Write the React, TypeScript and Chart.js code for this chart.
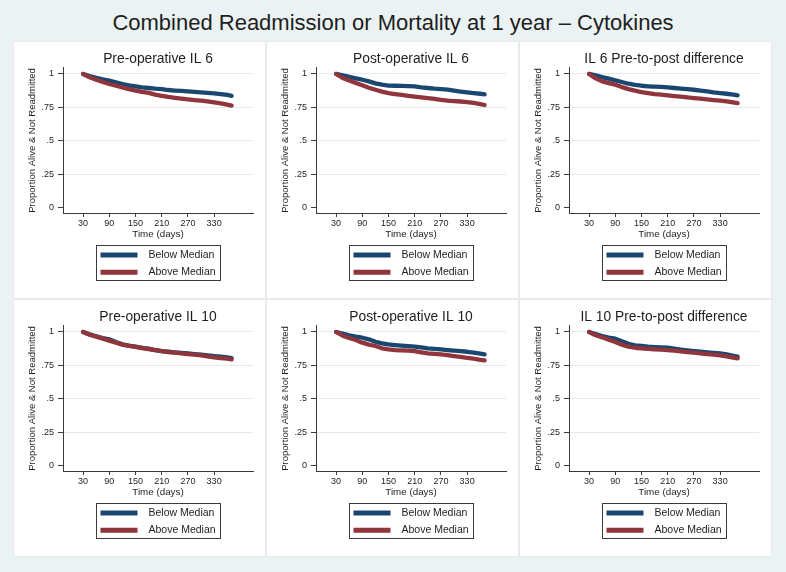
import React, { useEffect, useRef } from "react";
import { Chart, registerables } from "chart.js";
Chart.register(...registerables);

const FONT = '"Liberation Sans", Arial, Helvetica, sans-serif';
const MAIN_TITLE = "Combined Readmission or Mortality at 1 year – Cytokines";
const PANEL_TITLES = [
  "Pre-operative IL 6",
  "Post-operative IL 6",
  "IL 6 Pre-to-post difference",
  "Pre-operative IL 10",
  "Post-operative IL 10",
  "IL 10 Pre-to-post difference",
];
const SERIES_LABELS = ["Below Median", "Above Median"];
const X_TITLE = "Time (days)";
const Y_TITLE = "Proportion Alive & Not Readmitted";
const X_TICKS = [30, 90, 150, 210, 270, 330];
const Y_TICKS = [0, 0.25, 0.5, 0.75, 1];
const Y_TICK_LABELS = ["0", ".25", ".5", ".75", "1"];

const DAYS = [30, 45, 60, 75, 90, 105, 120, 135, 150, 165, 180, 195, 210, 225, 240, 255, 270, 285, 300, 315, 330, 345, 360, 370];

const IL6_PRE_BELOW = [1.0, 0.985, 0.972, 0.96, 0.95, 0.938, 0.925, 0.915, 0.907, 0.9, 0.895, 0.89, 0.887, 0.88, 0.876, 0.873, 0.87, 0.866, 0.862, 0.858, 0.855, 0.85, 0.843, 0.837];
const IL6_PRE_ABOVE = [1.0, 0.975, 0.957, 0.94, 0.925, 0.912, 0.9, 0.886, 0.875, 0.866, 0.858, 0.846, 0.837, 0.828, 0.822, 0.816, 0.81, 0.805, 0.8, 0.795, 0.787, 0.78, 0.77, 0.763];
const IL6_POST_BELOW = [1.0, 0.99, 0.978, 0.967, 0.957, 0.945, 0.93, 0.92, 0.913, 0.912, 0.911, 0.909, 0.907, 0.9, 0.895, 0.89, 0.887, 0.883, 0.875, 0.868, 0.862, 0.857, 0.852, 0.848];
const IL6_POST_ABOVE = [1.0, 0.97, 0.952, 0.933, 0.915, 0.897, 0.882, 0.868, 0.857, 0.85, 0.843, 0.836, 0.83, 0.825, 0.82, 0.813, 0.807, 0.8, 0.797, 0.794, 0.79, 0.783, 0.775, 0.768];
const IL6_DIFF_BELOW = [1.0, 0.99, 0.977, 0.965, 0.952, 0.94, 0.927, 0.918, 0.912, 0.908, 0.905, 0.903, 0.9, 0.895, 0.89, 0.886, 0.882, 0.876, 0.869, 0.862, 0.857, 0.852, 0.846, 0.84];
const IL6_DIFF_ABOVE = [1.0, 0.967, 0.945, 0.932, 0.92, 0.902, 0.887, 0.875, 0.865, 0.857, 0.85, 0.845, 0.84, 0.835, 0.83, 0.825, 0.82, 0.815, 0.81, 0.805, 0.8, 0.795, 0.787, 0.782];
const IL10_PRE_BELOW = [1.0, 0.982, 0.968, 0.955, 0.945, 0.925, 0.908, 0.898, 0.89, 0.882, 0.875, 0.865, 0.857, 0.852, 0.848, 0.844, 0.84, 0.835, 0.83, 0.825, 0.82, 0.815, 0.81, 0.805];
const IL10_PRE_ABOVE = [1.0, 0.98, 0.965, 0.95, 0.935, 0.92, 0.905, 0.896, 0.889, 0.88, 0.872, 0.864, 0.857, 0.85, 0.845, 0.84, 0.835, 0.83, 0.825, 0.818, 0.81, 0.805, 0.8, 0.795];
const IL10_POST_BELOW = [1.0, 0.988, 0.975, 0.965, 0.957, 0.945, 0.927, 0.915, 0.907, 0.902, 0.898, 0.894, 0.89, 0.884, 0.878, 0.874, 0.87, 0.865, 0.86, 0.856, 0.852, 0.845, 0.838, 0.832];
const IL10_POST_ABOVE = [1.0, 0.972, 0.955, 0.94, 0.92, 0.905, 0.895, 0.878, 0.87, 0.865, 0.862, 0.86, 0.857, 0.848, 0.84, 0.836, 0.832, 0.826, 0.82, 0.813, 0.807, 0.8, 0.792, 0.787];
const IL10_DIFF_BELOW = [1.0, 0.985, 0.97, 0.958, 0.95, 0.93, 0.912, 0.9, 0.895, 0.89, 0.887, 0.885, 0.882, 0.875, 0.868, 0.862, 0.857, 0.852, 0.848, 0.844, 0.84, 0.832, 0.822, 0.815];
const IL10_DIFF_ABOVE = [1.0, 0.975, 0.96, 0.942, 0.925, 0.905, 0.89, 0.882, 0.877, 0.873, 0.87, 0.868, 0.865, 0.86, 0.855, 0.85, 0.845, 0.84, 0.835, 0.83, 0.825, 0.818, 0.808, 0.802];

const PANEL_SERIES = [
  [IL6_PRE_BELOW, IL6_PRE_ABOVE],
  [IL6_POST_BELOW, IL6_POST_ABOVE],
  [IL6_DIFF_BELOW, IL6_DIFF_ABOVE],
  [IL10_PRE_BELOW, IL10_PRE_ABOVE],
  [IL10_POST_BELOW, IL10_POST_ABOVE],
  [IL10_DIFF_BELOW, IL10_DIFF_ABOVE],
];

const COLORS = ["#1a476f", "#90353b"];
const BG = "#eaf2f3";
const GRID = "#e2eaec";
const AXIS = "#3a3a3a";
const TEXT = "#1e1e1e";

const PANEL_W = 253;
const PANEL_H = 258;
const PANEL_X = [13, 266, 519];
const PANEL_Y = [41, 299];

const boxLegend = {
  id: "boxLegend",
  afterDraw(chart: any) {
    const ctx = chart.ctx;
    const area = chart.chartArea;
    const cx = (area.left + area.right) / 2;
    const w = 124;
    const h = 35;
    const x0 = Math.round(cx - w / 2) + 0.5;
    const y0 = Math.round(area.bottom + 32) + 0.5;
    ctx.save();
    ctx.strokeStyle = AXIS;
    ctx.lineWidth = 1;
    ctx.strokeRect(x0, y0, w, h);
    chart.data.datasets.forEach((ds: any, i: number) => {
      const yy = y0 + 9.5 + i * 17.3;
      ctx.strokeStyle = ds.borderColor;
      ctx.lineWidth = 5;
      ctx.lineCap = "butt";
      ctx.beginPath();
      ctx.moveTo(x0 + 4, yy);
      ctx.lineTo(x0 + 41, yy);
      ctx.stroke();
      ctx.fillStyle = TEXT;
      ctx.font = `10.5px ${FONT}`;
      ctx.textBaseline = "middle";
      ctx.textAlign = "left";
      ctx.fillText(ds.label, x0 + 52, yy);
    });
    ctx.restore();
  },
};

function Panel({ idx }: { idx: number }) {
  const ref = useRef<HTMLCanvasElement | null>(null);
  useEffect(() => {
    if (!ref.current) return;
    const series = PANEL_SERIES[idx];
    const chart = new Chart(ref.current, {
      type: "line",
      data: {
        datasets: series.map((vals, s) => ({
          label: SERIES_LABELS[s],
          data: DAYS.map((d, i) => ({ x: d, y: vals[i] })),
          borderColor: COLORS[s],
          backgroundColor: COLORS[s],
          borderWidth: 4.3,
          pointRadius: 0,
          tension: 0,
          fill: false,
          borderCapStyle: "round",
          borderJoinStyle: "round",
          order: s === 0 ? 1 : 0,
        })),
      },
      options: {
        animation: false,
        responsive: false,
        devicePixelRatio: 1,
        layout: { padding: { left: 0, top: 0, right: 13, bottom: 59 } },
        plugins: {
          legend: { display: false },
          tooltip: { enabled: false },
          title: {
            display: true,
            text: PANEL_TITLES[idx],
            fullSize: false,
            color: TEXT,
            font: { family: FONT, size: 13.8, weight: "normal" },
            padding: { top: 9.7, bottom: 0.7 },
          },
        },
        scales: {
          x: {
            type: "linear",
            min: -16,
            max: 419,
            afterBuildTicks: (s: any) => {
              s.ticks = X_TICKS.map((v) => ({ value: v }));
            },
            afterFit: (s: any) => {
              s.height = 27;
            },
            grid: { drawOnChartArea: false, tickLength: 4, tickColor: AXIS, tickWidth: 1 },
            border: { display: true, color: AXIS, width: 1 },
            ticks: {
              font: { family: FONT, size: 9 },
              color: TEXT,
              padding: 1,
              maxRotation: 0,
              autoSkip: false,
            },
            title: {
              display: true,
              text: X_TITLE,
              color: TEXT,
              font: { family: FONT, size: 9.8 },
              padding: { top: 0, bottom: 0 },
            },
          },
          y: {
            type: "linear",
            min: -0.04,
            max: 1.045,
            afterBuildTicks: (s: any) => {
              s.ticks = Y_TICKS.map((v) => ({ value: v }));
            },
            afterFit: (s: any) => {
              s.width = 50;
            },
            grid: {
              color: (c: any) => (c.tick && c.tick.value === 0 ? "rgba(0,0,0,0)" : GRID),
              tickColor: AXIS,
              tickLength: 5,
              lineWidth: 1,
            },
            border: { display: true, color: AXIS, width: 1 },
            ticks: {
              font: { family: FONT, size: 9 },
              color: TEXT,
              padding: 4,
              autoSkip: false,
              callback: (v: any) => {
                const k = Y_TICKS.indexOf(Number(v));
                return k >= 0 ? Y_TICK_LABELS[k] : "";
              },
            },
            title: {
              display: true,
              text: Y_TITLE,
              color: TEXT,
              font: { family: FONT, size: 9.5 },
              padding: { top: 13.5, bottom: 0 },
            },
          },
        },
      },
      plugins: [boxLegend],
    } as any);
    return () => chart.destroy();
  }, [idx]);
  const col = idx % 3;
  const row = Math.floor(idx / 3);
  return (
    <div
      style={{
        position: "absolute",
        left: PANEL_X[col],
        top: PANEL_Y[row],
        width: PANEL_W,
        height: PANEL_H,
        background: "#ffffff",
        boxShadow: "inset 0 0 0 1px #e6eaeb",
      }}
    >
      <canvas ref={ref} width={PANEL_W} height={PANEL_H} style={{ display: "block" }} />
    </div>
  );
}

export default function App() {
  return (
    <div
      style={{
        position: "absolute",
        left: 0,
        top: 0,
        width: 786,
        height: 572,
        background: BG,
        overflow: "hidden",
      }}
    >
      <div
        style={{
          position: "absolute",
          left: 0,
          top: 10,
          width: 786,
          textAlign: "center",
          fontFamily: FONT,
          fontSize: 22,
          lineHeight: "25px",
          color: TEXT,
        }}
      >
        {MAIN_TITLE}
      </div>
      {PANEL_TITLES.map((_, i) => (
        <Panel key={i} idx={i} />
      ))}
    </div>
  );
}
